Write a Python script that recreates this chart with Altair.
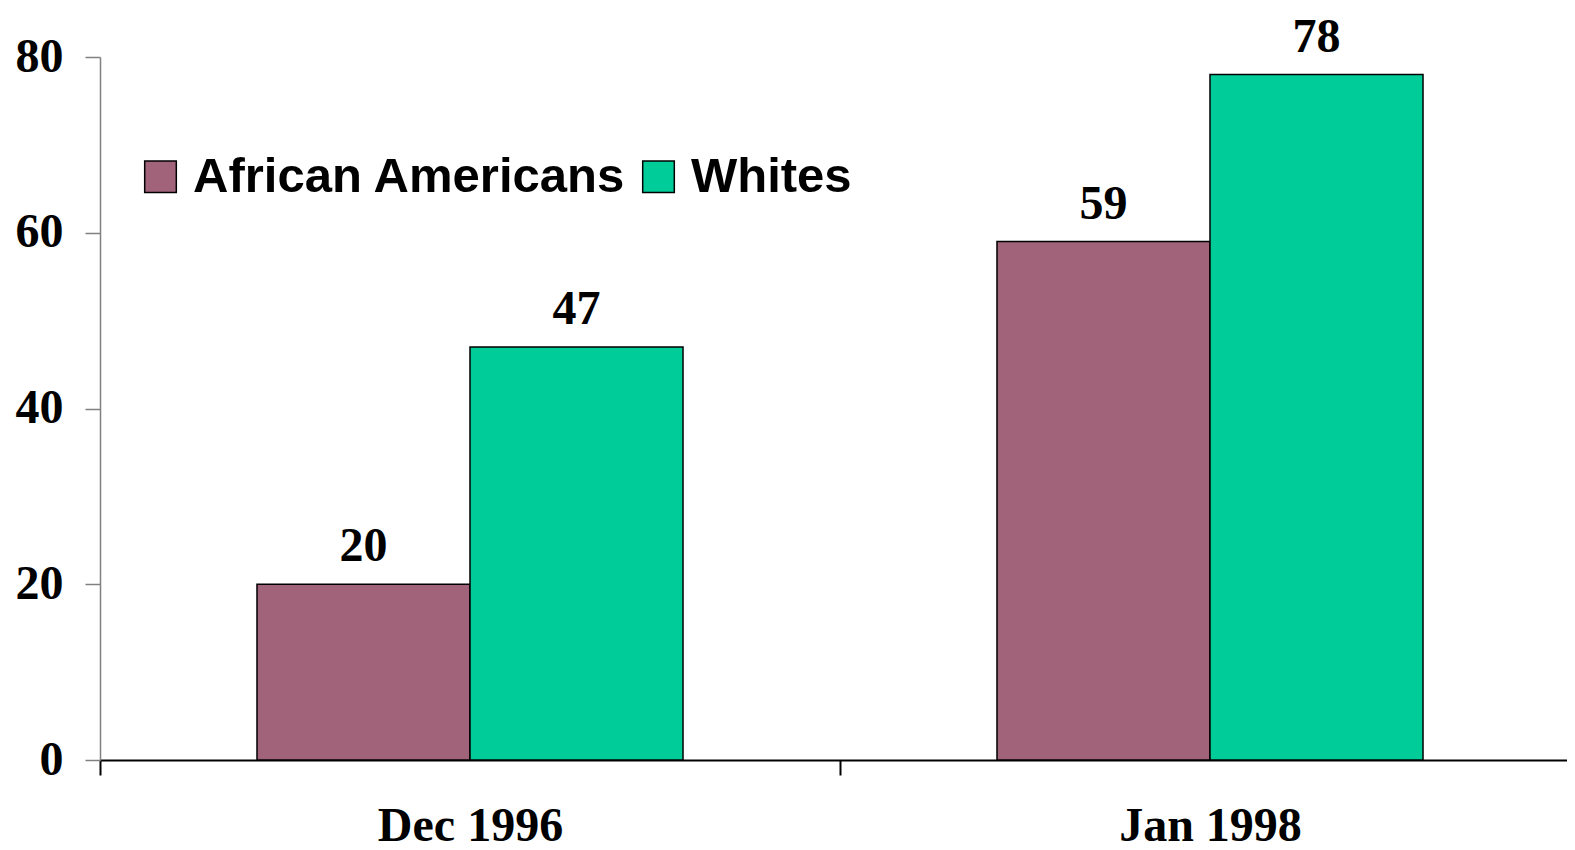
import altair as alt
import pandas as pd

periods = ["Dec 1996", "Dec 1996", "Jan 1998", "Jan 1998"]
groups = ["African Americans", "Whites", "African Americans", "Whites"]
values = [20, 47, 59, 78]

series_order = ["African Americans", "Whites"]
series_colors = ["#A0637A", "#00CC99"]
y_ticks = [0, 20, 40, 60, 80]

df = pd.DataFrame({"period": periods, "group": groups, "value": values})

x_enc = alt.X(
    "period:N",
    title=None,
    scale=alt.Scale(paddingInner=0, paddingOuter=0, range=[0, 1480]),
    axis=alt.Axis(
        labelAngle=0,
        labelFont="Liberation Serif",
        labelFontWeight="bold",
        labelFontSize=48,
        labelColor="black",
        labelBaseline="alphabetic",
        labelPadding=65,
        labelLimit=1000,
        tickBand="extent",
        tickSize=15,
        tickColor="black",
        tickWidth=2,
        domainColor="black",
        domainWidth=2,
        grid=False,
    ),
)
y_enc = alt.Y(
    "value:Q",
    title=None,
    scale=alt.Scale(domain=[0, 80], nice=False),
    axis=alt.Axis(
        values=y_ticks,
        labelFont="Liberation Serif",
        labelFontWeight="bold",
        labelFontSize=48,
        labelColor="black",
        labelPadding=22,
        tickSize=15,
        tickColor="#808080",
        tickWidth=1.5,
        domainColor="#808080",
        domainWidth=1.5,
        grid=False,
    ),
)
xoff = alt.XOffset(
    "group:N",
    sort=series_order,
    scale=alt.Scale(paddingOuter=0.737, paddingInner=0),
)

bars = alt.Chart(df).mark_bar(stroke="black", strokeWidth=1.5).encode(
    x=x_enc,
    y=y_enc,
    xOffset=xoff,
    color=alt.Color(
        "group:N",
        scale=alt.Scale(domain=series_order, range=series_colors),
        legend=alt.Legend(
            title=None,
            orient="none",
            direction="horizontal",
            legendX=36,
            legendY=95,
            padding=0,
            symbolType="square",
            symbolSize=1000,
            symbolStrokeColor="black",
            symbolStrokeWidth=1.5,
            symbolOpacity=1,
            labelFont="Liberation Sans",
            labelFontWeight="bold",
            labelFontSize=49,
            labelColor="black",
            labelOffset=8,
            labelLimit=1000,
            columnPadding=7,
        ),
    ),
)

labels = alt.Chart(df).mark_text(
    font="Liberation Serif",
    fontWeight="bold",
    fontSize=48,
    color="black",
    baseline="alphabetic",
    dy=-23,
).encode(
    x=alt.X("period:N"),
    y=alt.Y("value:Q"),
    xOffset=alt.XOffset("group:N", sort=series_order),
    text=alt.Text("value:Q"),
)

chart = (
    alt.layer(bars, labels)
    .properties(
        width=1467,
        height=703,
        autosize=alt.AutoSizeParams(type="none"),
        padding={"left": 92, "top": 49, "right": 0, "bottom": 100},
        view=alt.ViewBackground(stroke="transparent", strokeWidth=0),
    )
    .configure_view(strokeWidth=0, stroke="transparent")
    .configure_axis(grid=False)
    .configure(background="white")
)

chart.save("out.html", embed_options={"renderer": "svg", "actions": False})
